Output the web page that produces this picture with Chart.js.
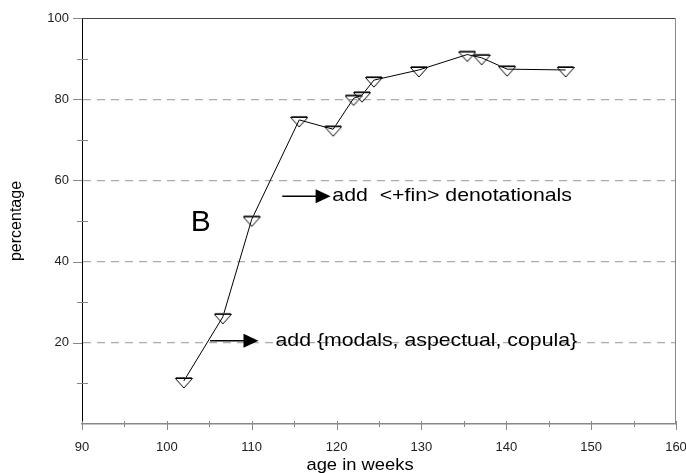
<!DOCTYPE html>
<html>
<head>
<meta charset="utf-8">
<script src="https://cdn.jsdelivr.net/npm/chart.js@4/dist/chart.umd.min.js"></script>
<style>
  html, body { margin: 0; padding: 0; background: #fff; }
  #wrap { width: 686px; height: 473px; }
</style>
</head>
<body>
<div id="wrap"><canvas id="chart" width="686" height="473"></canvas></div>
<script>
// age in weeks / percentage
const ages = [102, 106.6, 110, 115.6, 119.6, 122, 123, 124.4, 129.7, 135.4, 137.1, 140.1, 147]
const percents = [10.6, 26.4, 50.4, 74.9, 72.6, 80.2, 81, 84.7, 87.2, 91, 90.2, 87.4, 87.2]

const xTicks = [90, 100, 110, 120, 130, 140, 150, 160]
const yTicks = [20, 40, 60, 80, 100]

// annotations, in data units: [xStart, xEnd, y]
const arrowFin = [113.6, 119.3, 56.1]
const arrowModals = [105.1, 110.8, 20.5]
const labelFin = 'add  <+fin> denotationals'
const labelModals = 'add {modals, aspectual, copula}'
const labelB = 'B'

const FONT = '"Liberation Sans", Arial, sans-serif'

// start: marker (flat, open, down-pointing triangle)
const marker = document.createElement('canvas')
marker.width = 18
marker.height = 20
;(function () {
    const m = marker.getContext('2d')
    m.strokeStyle = '#000'
    m.lineWidth = 1
    m.beginPath()
    m.moveTo(0.5, 7.5)
    m.lineTo(17.5, 7.5)
    m.lineTo(9, 17)
    m.closePath()
    m.stroke()
    m.strokeStyle = '#555'
    m.beginPath()
    m.moveTo(1, 6.5)
    m.lineTo(17, 6.5)
    m.stroke()
})()
// end: marker

function arrow(ctx, x1, x2, y) {
    ctx.save()
    ctx.strokeStyle = '#000'
    ctx.fillStyle = '#000'
    ctx.lineWidth = 1.5
    ctx.beginPath()
    ctx.moveTo(x1, y)
    ctx.lineTo(x2 - 12, y)
    ctx.stroke()
    ctx.beginPath()
    ctx.moveTo(x2, y)
    ctx.lineTo(x2 - 15, y - 7)
    ctx.lineTo(x2 - 15, y + 7)
    ctx.closePath()
    ctx.fill()
    ctx.restore()
}

const frame = {
    id: 'frame',
    beforeDatasetsDraw(chart) {
        const { ctx, chartArea: a, scales } = chart
        ctx.save()
        // top + right border
        ctx.lineWidth = 1
        ctx.strokeStyle = '#444'
        ctx.beginPath()
        ctx.moveTo(a.left, a.top + 0.5)
        ctx.lineTo(a.right, a.top + 0.5)
        ctx.stroke()
        ctx.strokeStyle = '#888'
        ctx.beginPath()
        ctx.moveTo(a.right - 0.5, a.top)
        ctx.lineTo(a.right - 0.5, a.bottom)
        ctx.stroke()

        // tick marks
        ctx.strokeStyle = '#888'
        scales.y.ticks.forEach(function (t) {
            const py = Math.round(scales.y.getPixelForValue(t.value)) + 0.5
            const major = t.value % 20 === 0
            ctx.beginPath()
            if (major) { ctx.moveTo(a.left - 9, py); ctx.lineTo(a.left, py) }
            else { ctx.moveTo(a.left - 5, py); ctx.lineTo(a.left + 6, py) }
            if (t.value > 0) ctx.stroke()
        })
        scales.x.ticks.forEach(function (t) {
            const px = Math.round(scales.x.getPixelForValue(t.value)) + 0.5
            const major = t.value % 10 === 0
            ctx.beginPath()
            ctx.moveTo(px, a.bottom - 3)
            ctx.lineTo(px, a.bottom + (major ? 6 : 3))
            ctx.stroke()
        })

        // axis titles
        ctx.fillStyle = '#000'
        ctx.font = '17px ' + FONT
        ctx.textAlign = 'center'
        ctx.textBaseline = 'middle'
        ctx.save()
        ctx.translate(360, 465)
        ctx.scale(1.08, 1)
        ctx.fillText('age in weeks', 0, 0)
        ctx.restore()
        ctx.font = '16px ' + FONT
        ctx.save()
        ctx.translate(17, (a.top + a.bottom) / 2)
        ctx.rotate(-Math.PI / 2)
        ctx.fillText('percentage', 0, 0)
        ctx.restore()
        ctx.restore()
    },
    afterDatasetsDraw(chart) {
        const { ctx, scales: { x, y } } = chart
        arrow(ctx, x.getPixelForValue(arrowFin[0]), x.getPixelForValue(arrowFin[1]), y.getPixelForValue(arrowFin[2]))
        arrow(ctx, x.getPixelForValue(arrowModals[0]), x.getPixelForValue(arrowModals[1]), y.getPixelForValue(arrowModals[2]))
        ctx.save()
        ctx.fillStyle = '#000'
        ctx.textBaseline = 'middle'
        ctx.textAlign = 'left'
        ctx.font = '19px ' + FONT
        ctx.save()
        ctx.translate(x.getPixelForValue(119.5), y.getPixelForValue(arrowFin[2]))
        ctx.scale(1.12, 1)
        ctx.fillText(labelFin, 0, 0)
        ctx.restore()
        ctx.save()
        ctx.translate(x.getPixelForValue(112.8), y.getPixelForValue(arrowModals[2]))
        ctx.scale(1.12, 1)
        ctx.fillText(labelModals, 0, 0)
        ctx.restore()
        ctx.font = '30px ' + FONT
        ctx.textAlign = 'center'
        ctx.fillText(labelB, x.getPixelForValue(104), y.getPixelForValue(49.5))
        ctx.restore()
    }
}

new Chart(document.getElementById('chart'), {
    type: 'scatter',
    data: {
        datasets: [{
            data: ages.map(function (a, i) { return { x: a, y: percents[i] } }),
            showLine: true,
            borderColor: '#000',
            borderWidth: 1,
            pointStyle: marker,
            pointRadius: 8
        }]
    },
    options: {
        responsive: false,
        animation: false,
        devicePixelRatio: 1,
        layout: { padding: { top: 18, right: 0, left: 0, bottom: 0 } },
        plugins: { legend: { display: false }, tooltip: { enabled: false } },
        scales: {
            x: {
                min: 90, max: 160,
                afterFit: function (s) {
                    s.height = 49
                    s.paddingRight = 10
                    s.paddingLeft = 0
                },
                afterBuildTicks: function (s) {
                    const t = []
                    for (let v = 90; v <= 160; v += 5) t.push({ value: v })
                    s.ticks = t
                },
                ticks: {
                    autoSkip: false, maxRotation: 0, padding: 8,
                    color: '#222', font: { family: FONT, size: 13 },
                    callback: function (v) { return xTicks.includes(v) ? v : '' }
                },
                grid: { display: false },
                border: { display: true, color: '#888', width: 1.5 }
            },
            y: {
                min: 0, max: 100,
                afterFit: function (s) {
                    s.width = 82
                    s.paddingTop = 0
                    s.paddingBottom = 0
                },
                afterBuildTicks: function (s) {
                    const t = []
                    for (let v = 0; v <= 100; v += 10) t.push({ value: v })
                    s.ticks = t
                },
                ticks: {
                    autoSkip: false, padding: 13,
                    color: '#222', font: { family: FONT, size: 13 },
                    callback: function (v) { return yTicks.includes(v) ? v : '' }
                },
                grid: {
                    drawTicks: false,
                    color: function (c) {
                        const v = c.tick && c.tick.value
                        return (v > 0 && v < 100 && v % 20 === 0) ? '#aaa' : 'rgba(0,0,0,0)'
                    },
                    lineWidth: 1.2
                },
                border: { display: true, color: '#000', width: 1, dash: [8, 6] }
            }
        }
    },
    plugins: [frame]
})
</script>
</body>
</html>
